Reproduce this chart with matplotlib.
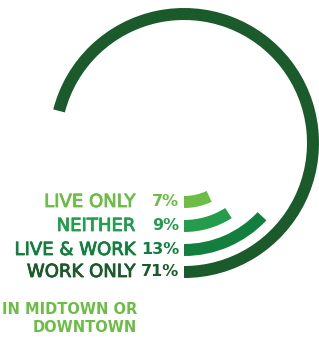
import matplotlib
matplotlib.use("Agg")
import matplotlib.pyplot as plt
from matplotlib.patches import Wedge
import matplotlib.patheffects as pe

# ── Données ──
categories = ["WORK ONLY", "LIVE & WORK", "NEITHER", "LIVE ONLY"]
percents = [71, 13, 9, 7]
colors = ["#1b5a2b", "#127f3e", "#239d4b", "#6bbd45"]
outer_radii = [135, 113, 89, 65]
footer = "IN MIDTOWN OR\nDOWNTOWN"

W, H = 319, 339
fig = plt.figure(figsize=(W / 100, H / 100), dpi=100)
ax = fig.add_axes([0, 0, 1, 1])
ax.set_xlim(0, W)
ax.set_ylim(0, H)
ax.set_aspect("equal")
ax.axis("off")

cx, cy = 184, 196
thick = 12
for label, pct, col, r in zip(categories, percents, colors, outer_radii):
    start = -90
    end = start + pct * 3.6
    ax.add_patch(Wedge((cx, cy), r, start, end, width=thick, color=col, lw=0))
    ymid = cy - r + thick / 2
    t = ax.text(135, ymid, label, ha="right", va="center", color=col,
                fontsize=13, family="DejaVu Sans")
    t.set_path_effects([pe.withStroke(linewidth=0.6, foreground=col)])
    ax.text(179, ymid, f"{pct}%", ha="right", va="center", color=col,
            fontsize=11.5, family="DejaVu Sans", fontweight="bold")

ax.text(137, 20.5, footer, ha="right", va="center", color="#6bbd45",
        fontsize=10.5, family="DejaVu Sans", fontweight="bold", linespacing=1.25)

plt.savefig("out.png", dpi=100)
